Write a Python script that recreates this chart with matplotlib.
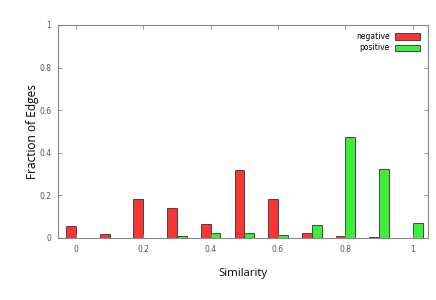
import numpy as np
import matplotlib
matplotlib.use("Agg")
import matplotlib.pyplot as plt
from matplotlib.patches import Patch

similarity = [0.0, 0.1, 0.2, 0.3, 0.4, 0.5, 0.6, 0.7, 0.8, 0.9, 1.0]
negative = [0.055, 0.017, 0.183, 0.141, 0.064, 0.317, 0.180, 0.020, 0.006, 0.003, 0.0]
positive = [0.0, 0.0, 0.0, 0.006, 0.024, 0.020, 0.012, 0.061, 0.473, 0.324, 0.069]
xticks = [0, 0.2, 0.4, 0.6, 0.8, 1]
xticklabels = ["0", "0.2", "0.4", "0.6", "0.8", "1"]
yticks = [0, 0.2, 0.4, 0.6, 0.8, 1]
yticklabels = ["0", "0.2", "0.4", "0.6", "0.8", "1"]

red = "#f83636"
green = "#3cee3c"
edge = "#333333"
axcol = "#888888"

fig = plt.figure(figsize=(4.36, 3.0), dpi=100)
ax = fig.add_axes([0.1337, 0.2077, 0.8473, 0.709])

x = np.array(similarity)
w = 0.029
ax.bar(x - w / 2, negative, width=w, color=red, edgecolor=edge, linewidth=0.6)
ax.bar(x + w / 2, positive, width=w, color=green, edgecolor=edge, linewidth=0.6)

ax.set_xlim(-0.052, 1.044)
ax.set_ylim(0, 1)
ax.set_xticks(xticks)
ax.set_xticklabels(xticklabels)
ax.set_yticks(yticks)
ax.set_yticklabels(yticklabels)
ax.tick_params(direction="in", length=3, width=0.6, color=axcol, labelcolor="#555555",
               labelsize=5.5, top=True, right=True, pad=5)
for s in ax.spines.values():
    s.set_color(axcol)
    s.set_linewidth(0.8)

ax.set_xlabel("Similarity", family="Open Sans", fontsize=8.2, labelpad=10)
ax.set_ylabel("Fraction of Edges", family="Open Sans", fontsize=8.6, labelpad=0)

handles = [Patch(facecolor=red, edgecolor=edge, linewidth=0.6),
           Patch(facecolor=green, edgecolor=edge, linewidth=0.6)]
ax.legend(handles, ["negative", "positive"], loc="upper right", markerfirst=False,
          frameon=False, fontsize=5.5, handlelength=3.3, handleheight=0.9,
          labelspacing=0.3, handletextpad=0.6, borderaxespad=0.4,
          bbox_to_anchor=(0.995, 0.995))

fig.savefig("out.png", dpi=100)
